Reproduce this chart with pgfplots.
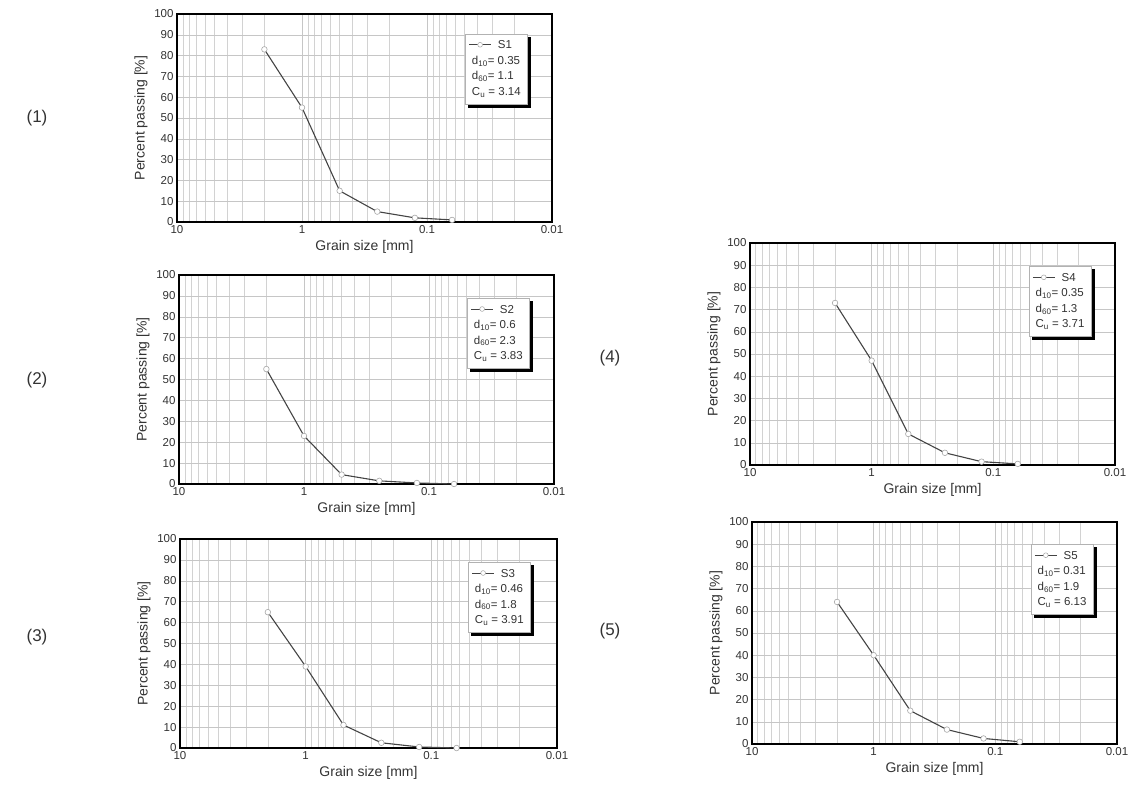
\documentclass[border=0pt]{standalone}
\usepackage{fontspec}
\setmainfont{Liberation Sans}
\usepackage{pgfplots}
\pgfplotsset{compat=1.18}

\definecolor{ink}{HTML}{333333}
\definecolor{curvecol}{HTML}{444444}

\tikzset{
  gbox/.style={draw=gray!60, fill=white, line width=0.5pt, anchor=north east,
    align=left, inner sep=3pt, minimum width=62pt, minimum height=70pt,
    font=\fontsize{11.5}{15.5}\selectfont, text=ink},
  gline/.style={draw=curvecol, line width=0.9pt},
  gdot/.style={circle, draw=gray!70, fill=white, line width=0.5pt, inner sep=0pt, minimum size=4.8pt},
}
% box: empty black box shifted for the shadow, then the white box, then the sample line
\newcommand{\gleg}[3]{%
  \node[gbox, fill=black, draw=black, xshift=3pt, yshift=-3pt] at (#2) {};
  \node[gbox] (#1) at (#2) {#3};
  \draw[gline] ([xshift=4pt,yshift=-11pt]#1.north west) -- ++(22pt,0pt) node[pos=0.5, gdot] {};}

\begin{document}
\begin{tikzpicture}
\useasboundingbox (0pt,0pt) rectangle (1135pt,788pt);

% (1)
\begin{axis}[scale only axis, anchor=south west, at={(177pt,566pt)}, width=375pt, height=208pt,
  xmode=log, x dir=reverse, xmin=0.01, xmax=10, ymin=0, ymax=100,
  xtick={0.01,0.1,1,10}, xticklabels={0.01,0.1,1,10}, ytick={0,10,...,100},
  grid=both, major grid style={draw=gray!45, line width=0.5pt}, minor grid style={draw=gray!35, line width=0.4pt},
  major tick length=0pt, minor tick length=0pt, axis line style={black, line width=1.2pt},
  /pgf/number format/assume math mode=true,
  tick label style={font=\fontsize{11.5}{13}\selectfont, text=ink},
  label style={font=\fontsize{14}{16}\selectfont, text=ink},
  xlabel={Grain size [mm]}, ylabel={Percent passing [\%]}]
\addplot[color=curvecol, line width=1.1pt, mark=*, mark size=2.8pt, mark options={fill=white, draw=gray!70, line width=0.6pt}]
  coordinates {(2,83) (1,55) (0.5,15) (0.25,5) (0.125,2) (0.063,1)};
\gleg{b1}{rel axis cs:0.935,0.905}{\hspace{26pt}S1\\ d\textsubscript{10}= 0.35\\ d\textsubscript{60}= 1.1\\ C\textsubscript{u} = 3.14}
\end{axis}

% (2)
\begin{axis}[scale only axis, anchor=south west, at={(179pt,304pt)}, width=375pt, height=209pt,
  xmode=log, x dir=reverse, xmin=0.01, xmax=10, ymin=0, ymax=100,
  xtick={0.01,0.1,1,10}, xticklabels={0.01,0.1,1,10}, ytick={0,10,...,100},
  grid=both, major grid style={draw=gray!45, line width=0.5pt}, minor grid style={draw=gray!35, line width=0.4pt},
  major tick length=0pt, minor tick length=0pt, axis line style={black, line width=1.2pt},
  /pgf/number format/assume math mode=true,
  tick label style={font=\fontsize{11.5}{13}\selectfont, text=ink},
  label style={font=\fontsize{14}{16}\selectfont, text=ink},
  xlabel={Grain size [mm]}, ylabel={Percent passing [\%]}]
\addplot[color=curvecol, line width=1.1pt, mark=*, mark size=2.8pt, mark options={fill=white, draw=gray!70, line width=0.6pt}]
  coordinates {(2,55) (1,23) (0.5,4.5) (0.25,1.5) (0.125,0.5) (0.063,0)};
\gleg{b2}{rel axis cs:0.935,0.89}{\hspace{26pt}S2\\ d\textsubscript{10}= 0.6\\ d\textsubscript{60}= 2.3\\ C\textsubscript{u} = 3.83}
\end{axis}

% (3)
\begin{axis}[scale only axis, anchor=south west, at={(180pt,40pt)}, width=377pt, height=209pt,
  xmode=log, x dir=reverse, xmin=0.01, xmax=10, ymin=0, ymax=100,
  xtick={0.01,0.1,1,10}, xticklabels={0.01,0.1,1,10}, ytick={0,10,...,100},
  grid=both, major grid style={draw=gray!45, line width=0.5pt}, minor grid style={draw=gray!35, line width=0.4pt},
  major tick length=0pt, minor tick length=0pt, axis line style={black, line width=1.2pt},
  /pgf/number format/assume math mode=true,
  tick label style={font=\fontsize{11.5}{13}\selectfont, text=ink},
  label style={font=\fontsize{14}{16}\selectfont, text=ink},
  xlabel={Grain size [mm]}, ylabel={Percent passing [\%]}]
\addplot[color=curvecol, line width=1.1pt, mark=*, mark size=2.8pt, mark options={fill=white, draw=gray!70, line width=0.6pt}]
  coordinates {(2,65) (1,39) (0.5,11) (0.25,2.5) (0.125,0.5) (0.063,0)};
\gleg{b3}{rel axis cs:0.93,0.89}{\hspace{26pt}S3\\ d\textsubscript{10}= 0.46\\ d\textsubscript{60}= 1.8\\ C\textsubscript{u} = 3.91}
\end{axis}

% (4)
\begin{axis}[scale only axis, anchor=south west, at={(750pt,323pt)}, width=365pt, height=222pt,
  xmode=log, x dir=reverse, xmin=0.01, xmax=10, ymin=0, ymax=100,
  xtick={0.01,0.1,1,10}, xticklabels={0.01,0.1,1,10}, ytick={0,10,...,100},
  grid=both, major grid style={draw=gray!45, line width=0.5pt}, minor grid style={draw=gray!35, line width=0.4pt},
  major tick length=0pt, minor tick length=0pt, axis line style={black, line width=1.2pt},
  /pgf/number format/assume math mode=true,
  tick label style={font=\fontsize{11.5}{13}\selectfont, text=ink},
  label style={font=\fontsize{14}{16}\selectfont, text=ink},
  xlabel={Grain size [mm]}, ylabel={Percent passing [\%]}]
\addplot[color=curvecol, line width=1.1pt, mark=*, mark size=2.8pt, mark options={fill=white, draw=gray!70, line width=0.6pt}]
  coordinates {(2,73) (1,47) (0.5,14) (0.25,5.5) (0.125,1.5) (0.063,0.5)};
\gleg{b4}{rel axis cs:0.935,0.895}{\hspace{26pt}S4\\ d\textsubscript{10}= 0.35\\ d\textsubscript{60}= 1.3\\ C\textsubscript{u} = 3.71}
\end{axis}

% (5)
\begin{axis}[scale only axis, anchor=south west, at={(752pt,44pt)}, width=365pt, height=222pt,
  xmode=log, x dir=reverse, xmin=0.01, xmax=10, ymin=0, ymax=100,
  xtick={0.01,0.1,1,10}, xticklabels={0.01,0.1,1,10}, ytick={0,10,...,100},
  grid=both, major grid style={draw=gray!45, line width=0.5pt}, minor grid style={draw=gray!35, line width=0.4pt},
  major tick length=0pt, minor tick length=0pt, axis line style={black, line width=1.2pt},
  /pgf/number format/assume math mode=true,
  tick label style={font=\fontsize{11.5}{13}\selectfont, text=ink},
  label style={font=\fontsize{14}{16}\selectfont, text=ink},
  xlabel={Grain size [mm]}, ylabel={Percent passing [\%]}]
\addplot[color=curvecol, line width=1.1pt, mark=*, mark size=2.8pt, mark options={fill=white, draw=gray!70, line width=0.6pt}]
  coordinates {(2,64) (1,40) (0.5,15) (0.25,6.5) (0.125,2.5) (0.063,1)};
\gleg{b5}{rel axis cs:0.935,0.9}{\hspace{26pt}S5\\ d\textsubscript{10}= 0.31\\ d\textsubscript{60}= 1.9\\ C\textsubscript{u} = 6.13}
\end{axis}

\begin{scope}[every node/.style={font=\fontsize{17}{19}\selectfont, text=ink}]
\node at (37pt,670pt) {(1)};
\node at (37pt,408pt) {(2)};
\node at (37pt,151pt) {(3)};
\node at (610pt,430pt) {(4)};
\node at (610pt,157pt) {(5)};
\end{scope}
\end{tikzpicture}
\end{document}
